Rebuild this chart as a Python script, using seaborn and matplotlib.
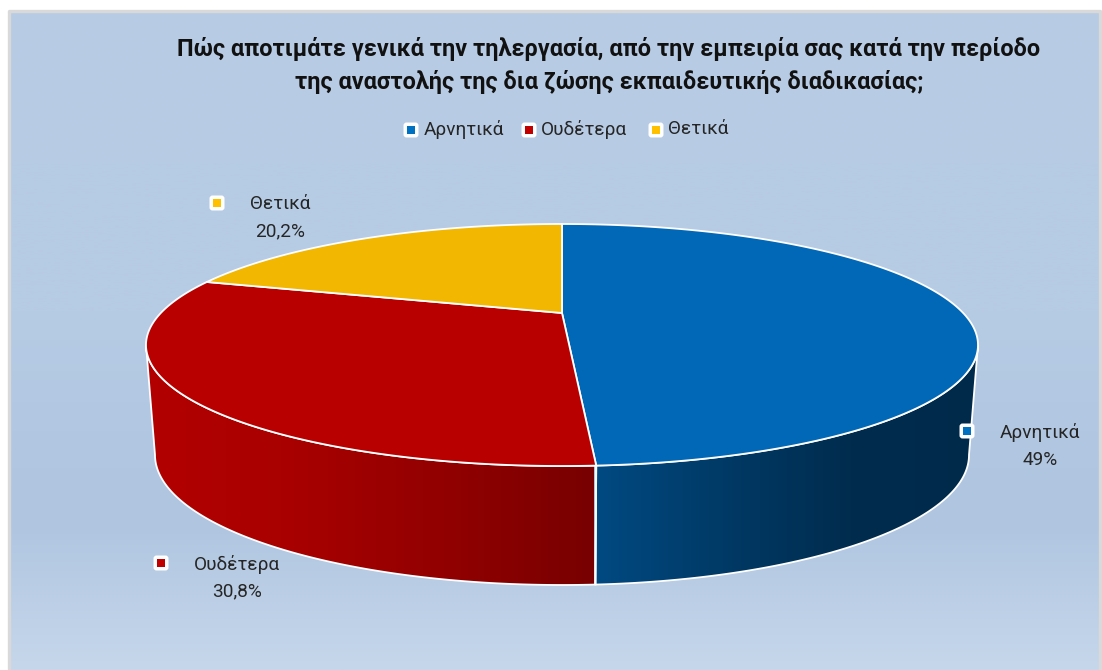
import matplotlib

matplotlib.use("Agg")
import matplotlib.pyplot as plt
import numpy as np
import seaborn as sns
from matplotlib.patches import FancyBboxPatch, Polygon

categories = ["Αρνητικά", "Ουδέτερα", "Θετικά"]
values = [49, 30.8, 20.2]
title_lines = [
    "Πώς αποτιμάτε γενικά την τηλεργασία, από την εμπειρία σας κατά την περίοδο",
    "της αναστολής της δια ζώσης εκπαιδευτικής διαδικασίας;",
]
top_colors = ["#0068b6", "#b80000", "#f2b700"]
key_colors = ["#0070c0", "#c00000", "#ffc000"]
wall_colors = [
    ["#002a4a", "#002c4e", "#003a66", "#004a82"],
    ["#b30000", "#a80000", "#920000", "#780000"],
    ["#c09000", "#c09000", "#c09000", "#c09000"],
]
wall_spans = [(594, 980), (144, 594), (207, 562)]
wall_flip = [True, False, False]

W, H = 1102, 670
PERSP = 0.2645
CX = 562


def rim(theta, cy, rx, ry):
    # theta is clockwise from 12 o'clock, rim drawn with a bit of perspective
    u, v = np.sin(theta), np.cos(theta)
    w = 1 + PERSP * v
    scale = np.sqrt(1 - PERSP**2)
    x = CX + rx * scale * u / w
    y = cy - ry * PERSP - ry * scale**2 * v / w
    return x, y


def key(ax, x, y, color, size=15):
    ax.add_patch(FancyBboxPatch((x - size / 2 + 2, y - size / 2 + 2), size - 4, size - 4,
                                boxstyle="round,pad=2,rounding_size=3", fc="white", ec="none", zorder=6))
    inner = size * 0.47
    ax.add_patch(Polygon([(x - inner / 2, y - inner / 2), (x + inner / 2, y - inner / 2),
                          (x + inner / 2, y + inner / 2), (x - inner / 2, y + inner / 2)],
                         fc=color, ec="none", zorder=7))


sns.set_theme(style="white")
plt.rcParams["font.family"] = ["Roboto", "DejaVu Sans"]

fig = plt.figure(figsize=(W / 100, H / 100), dpi=100, facecolor="white")
ax = fig.add_axes([0, 0, 1, 1])
ax.axis("off")

# background panel
panel_cmap = sns.blend_palette(["#b8cce4", "#b6cbe4", "#afc5e0", "#c6d7eb"], n_colors=256, as_cmap=True)
panel = np.interp(np.linspace(0, 1, 300), [0, 0.45, 0.77, 1], [0, 0.33, 0.66, 1]).reshape(-1, 1)
ax.imshow(panel, cmap=panel_cmap, vmin=0, vmax=1, extent=(9, 1100, 670, 11), aspect="auto", zorder=1)
ax.plot([9, 9, 1100, 1100], [670, 11, 11, 670], color="#d9d9d9", lw=2.4, zorder=2)

edges = np.radians(np.cumsum([0] + values) * 3.6)

# only the part of the rim between the two silhouette points faces the viewer
dense = np.linspace(0, 2 * np.pi, 3601)
dense_x = rim(dense, 345, 416, 121)[0]
theta_right, theta_left = dense[np.argmax(dense_x)], dense[np.argmin(dense_x)]

# side walls first, top face covers what is hidden
for i in range(len(values)):
    start, end = max(edges[i], theta_right), min(edges[i + 1], theta_left)
    if start >= end:
        continue
    t = np.linspace(start, end, 200)
    x1, y1 = rim(t, 345, 416, 121)
    x2, y2 = rim(t, 455, 407, 130)
    pts = np.r_[np.c_[x1, y1], np.c_[x2, y2][::-1]]
    poly = Polygon(pts, closed=True, fc="none", ec="none", zorder=3)
    ax.add_patch(poly)
    cmap = sns.blend_palette(wall_colors[i], n_colors=256, as_cmap=True)
    x0, x_end = wall_spans[i]
    grad = np.linspace(0, 1, 256).reshape(1, -1)
    if wall_flip[i]:
        grad = grad[:, ::-1]
    im = ax.imshow(grad, cmap=cmap, vmin=0, vmax=1, extent=(x0, x_end, 600, 300), aspect="auto", zorder=3)
    im.set_clip_path(poly)
    ax.add_patch(Polygon(pts, closed=True, fc="none", ec="white", lw=1.3, zorder=3.5))

for i in range(len(values)):
    t = np.linspace(edges[i], edges[i + 1], 200)
    x, y = rim(t, 345, 416, 121)
    cy = 345 - 121 * PERSP
    pts = np.r_[[[CX, cy]], np.c_[x, y]]
    ax.add_patch(Polygon(pts, closed=True, fc=top_colors[i], ec="white", lw=1.3, joinstyle="round", zorder=4))

# title
for line, y in zip(title_lines, [49, 82]):
    ax.text(609, y, line, ha="center", va="center", fontsize=16.95, fontweight="bold", color="#111111", zorder=8)

# legend
for name, color, kx, tx in zip(categories, key_colors, [411, 529, 656], [424, 541, 668]):
    key(ax, kx, 130, color, size=15)
    ax.text(tx, 129.5, name, ha="left", va="center", fontsize=13.7, color="#262626", zorder=8)

# data labels
label_pos = [(1040, 433, 967, 431), (237, 564, 161, 563), (280, 204, 217, 203)]
for name, val, color, (tx, ty, kx, ky) in zip(categories, values, key_colors, label_pos):
    key(ax, kx, ky, color, size=15)
    ax.text(tx, ty, name, ha="center", va="center", fontsize=13.7, color="#262626", zorder=8)
    ax.text(tx, ty + 27, f"{val:g}".replace(".", ",") + "%", ha="center", va="center", fontsize=13.7,
            color="#262626", zorder=8)

ax.set_xlim(0, W)
ax.set_ylim(H, 0)
fig.savefig("out.png", dpi=100, facecolor="white")
